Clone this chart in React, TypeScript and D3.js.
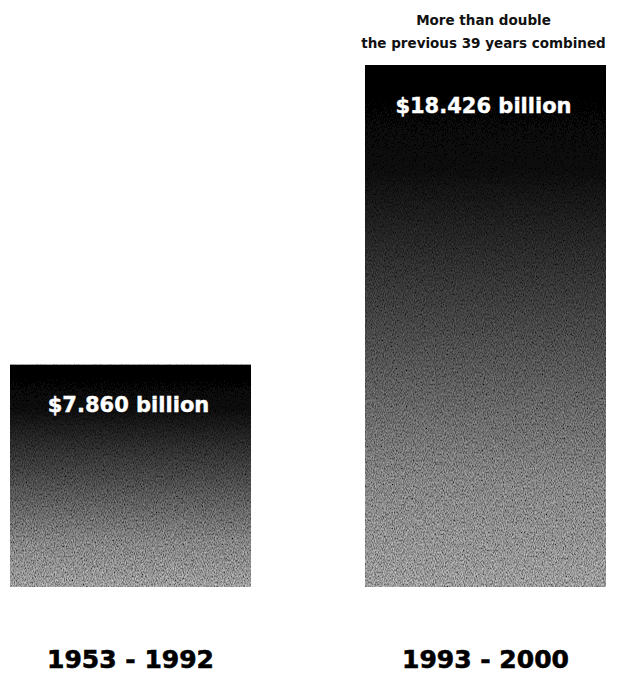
import React from "react";
import * as d3 from "d3";

const periods = ["1953 - 1992", "1993 - 2000"];
const amounts = [7.86, 18.426];
const valueLabels = ["$7.860 billion", "$18.426 billion"];
const noteLines = ["More than double", "the previous 39 years combined"];

const W = 628;
const H = 683;
const FONT = "'DejaVu Sans', Verdana, sans-serif";

export default function App() {
  const x = d3.scaleBand<string>().domain(periods).range([10, 606]).paddingInner(0.321).paddingOuter(0);
  const y = d3.scaleLinear().domain([0, d3.max(amounts) as number]).range([587, 65]);

  return (
    <svg width={W} height={H} style={{ position: "absolute", left: 0, top: 0, background: "#fff" }}>
      <defs>
        <linearGradient id="barGrad" x1="0" y1="0" x2="0" y2="1">
          <stop offset="0" stopColor="#000" />
          <stop offset="0.2" stopColor="#0c0c0c" />
          <stop offset="0.5" stopColor="#474747" />
          <stop offset="0.8" stopColor="#858585" />
          <stop offset="1" stopColor="#9c9c9c" />
        </linearGradient>
        <filter id="noise" x="0" y="0" width="100%" height="100%">
          <feTurbulence type="fractalNoise" baseFrequency="1.1 0.5" numOctaves={2} seed={7} result="t" />
          <feColorMatrix
            in="t"
            type="matrix"
            values="1.3 0 0 0 -0.15  1.3 0 0 0 -0.15  1.3 0 0 0 -0.15  0 0 0 0 1"
            result="g"
          />
          <feBlend in="g" in2="SourceGraphic" mode="overlay" result="b" />
          <feComposite in="b" in2="SourceGraphic" operator="in" />
        </filter>
      </defs>
      {periods.map((p, i) => {
        const bx = x(p) as number;
        const bw = x.bandwidth();
        const top = y(amounts[i]);
        const bh = y(0) - top;
        const cx = bx + bw / 2;
        return (
          <g key={p}>
            <rect x={bx} y={top} width={bw} height={bh} fill="url(#barGrad)" filter="url(#noise)" />
            <text
              x={cx - 2}
              y={top + 48}
              textAnchor="middle"
              fill="#fff"
              stroke="#fff"
              strokeWidth={0.4}
              fontFamily={FONT}
              fontWeight="bold"
              fontSize={21}
            >
              {valueLabels[i]}
            </text>
            <text
              x={cx}
              y={668}
              textAnchor="middle"
              fill="#000"
              fontFamily={FONT}
              fontWeight="bold"
              fontSize={25}
              stroke="#000"
              strokeWidth={0.6}
            >
              {p}
            </text>
            {i === 1 &&
              noteLines.map((l, j) => (
                <text
                  key={l}
                  x={cx - 2}
                  y={top - 40 + j * 23}
                  textAnchor="middle"
                  fill="#111"
                  fontFamily={FONT}
                  fontWeight="bold"
                  fontSize={13.5}
                >
                  {l}
                </text>
              ))}
          </g>
        );
      })}
    </svg>
  );
}
